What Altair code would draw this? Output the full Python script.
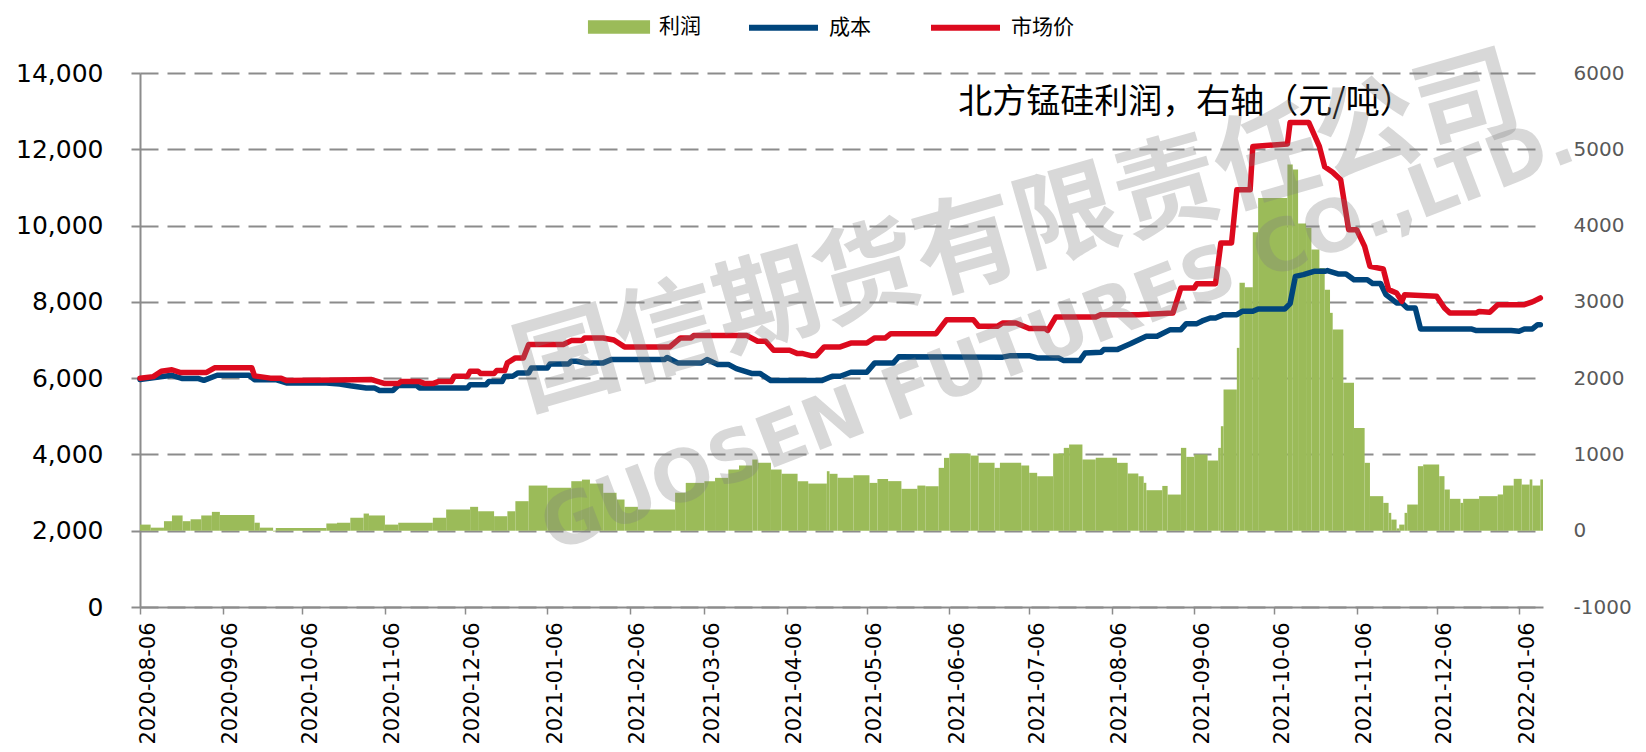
import altair as alt
import pandas as pd

# ---------------- data ----------------
profit_dates = [
    "2020-08-06", "2020-08-10", "2020-08-15", "2020-08-18", "2020-08-22", "2020-08-25", "2020-08-29",
    "2020-09-02", "2020-09-05", "2020-09-18", "2020-09-20", "2020-09-25", "2020-09-26", "2020-10-15",
    "2020-10-19", "2020-10-24", "2020-10-29", "2020-10-31", "2020-11-06", "2020-11-11", "2020-11-24",
    "2020-11-29", "2020-12-08", "2020-12-11", "2020-12-17", "2020-12-22", "2020-12-25", "2020-12-30",
    "2021-01-06", "2021-01-15", "2021-01-19", "2021-01-22", "2021-01-27", "2021-02-01", "2021-02-04",
    "2021-02-09", "2021-02-23", "2021-02-27", "2021-03-06", "2021-03-10", "2021-03-15", "2021-03-19",
    "2021-03-24", "2021-03-26", "2021-03-31", "2021-04-04", "2021-04-10", "2021-04-14", "2021-04-21",
    "2021-04-22", "2021-04-25", "2021-05-01", "2021-05-07", "2021-05-10", "2021-05-14", "2021-05-19",
    "2021-05-25", "2021-05-28", "2021-06-02", "2021-06-04", "2021-06-06", "2021-06-14", "2021-06-17",
    "2021-06-23", "2021-06-25", "2021-07-03", "2021-07-06", "2021-07-09", "2021-07-15", "2021-07-19",
    "2021-07-21", "2021-07-26", "2021-07-31", "2021-08-08", "2021-08-12", "2021-08-16", "2021-08-18",
    "2021-08-19", "2021-08-25", "2021-08-27", "2021-09-01", "2021-09-03", "2021-09-06", "2021-09-11",
    "2021-09-15", "2021-09-16", "2021-09-17", "2021-09-22", "2021-09-23", "2021-09-25", "2021-09-28",
    "2021-09-30", "2021-10-11", "2021-10-13", "2021-10-15", "2021-10-18", "2021-10-20", "2021-10-23",
    "2021-10-25", "2021-10-27", "2021-10-28", "2021-11-01", "2021-11-05", "2021-11-09", "2021-11-11",
    "2021-11-16", "2021-11-18", "2021-11-19", "2021-11-21", "2021-11-22", "2021-11-24", "2021-11-25",
    "2021-11-29", "2021-12-01", "2021-12-07", "2021-12-09", "2021-12-11", "2021-12-15", "2021-12-16",
    "2021-12-22", "2021-12-29", "2021-12-31", "2022-01-04", "2022-01-07", "2022-01-10", "2022-01-11",
    "2022-01-14",
]
profit_values = [
    80, 40, 125, 200, 125, 150, 200,
    247, 205, 105, 40, -10, 35, 95,
    105, 170, 225, 200, 80, 105, 170,
    278, 313, 255, 190, 255, 387, 592,
    562, 649, 670, 618, 497, 409, 313,
    278, 497, 627, 650, 693, 802, 855,
    933, 890, 802, 746, 650, 618, 780,
    746, 693, 727, 627, 677, 650, 549,
    592, 583, 824, 955, 1012, 985, 890,
    824, 890, 855, 759, 715, 1012, 1086,
    1130, 933, 955, 890, 750, 714, 628,
    531, 587, 474, 1086, 968, 1000, 920,
    1086, 1370, 1850, 2397, 3249, 3190, 3913,
    4363, 4800, 4734, 4026, 3970, 3685, 3445,
    3160, 2856, 2637, 1938, 1348, 890, 453,
    365, 234, 146, 30, 80, 234, 343,
    846, 868, 715, 540, 418, 365, 418,
    453, 475, 592, 680, 605, 672, 592,
    672,
]
profit_last_day = "2022-01-15"

cost_dates = [
    "2020-08-06", "2020-08-13", "2020-08-18", "2020-08-22", "2020-08-28", "2020-08-30", "2020-09-04",
    "2020-09-16", "2020-09-18", "2020-09-26", "2020-09-30", "2020-10-15", "2020-10-20", "2020-10-24",
    "2020-10-30", "2020-11-02", "2020-11-04", "2020-11-09", "2020-11-11", "2020-11-18", "2020-11-19",
    "2020-12-07", "2020-12-08", "2020-12-14", "2020-12-15", "2020-12-20", "2020-12-21", "2020-12-24",
    "2020-12-26", "2020-12-30", "2020-12-31", "2021-01-06", "2021-01-07", "2021-01-14", "2021-01-15",
    "2021-01-17", "2021-01-20", "2021-01-27", "2021-01-30", "2021-02-19", "2021-02-20", "2021-02-24",
    "2021-03-05", "2021-03-07", "2021-03-11", "2021-03-15", "2021-03-18", "2021-03-24", "2021-03-27",
    "2021-03-31", "2021-04-19", "2021-04-23", "2021-04-26", "2021-04-30", "2021-05-06", "2021-05-09",
    "2021-05-16", "2021-05-18", "2021-06-26", "2021-06-29", "2021-07-06", "2021-07-09", "2021-07-17",
    "2021-07-19", "2021-07-25", "2021-07-27", "2021-08-02", "2021-08-03", "2021-08-08", "2021-08-10",
    "2021-08-13", "2021-08-19", "2021-08-23", "2021-08-28", "2021-09-01", "2021-09-03", "2021-09-07",
    "2021-09-09", "2021-09-12", "2021-09-14", "2021-09-17", "2021-09-22", "2021-09-24", "2021-09-28",
    "2021-09-30", "2021-10-10", "2021-10-12", "2021-10-14", "2021-10-17", "2021-10-21", "2021-10-25",
    "2021-10-26", "2021-10-30", "2021-11-02", "2021-11-05", "2021-11-10", "2021-11-12", "2021-11-15",
    "2021-11-17", "2021-11-21", "2021-11-23", "2021-11-25", "2021-11-28", "2021-11-30", "2021-12-19",
    "2021-12-21", "2022-01-03", "2022-01-06", "2022-01-08", "2022-01-11", "2022-01-13", "2022-01-14",
]
cost_values = [
    5962, 6030, 6075, 5990, 5990, 5943, 6075,
    6075, 5960, 5960, 5875, 5875, 5845, 5800,
    5744, 5744, 5674, 5674, 5805, 5805, 5744,
    5744, 5830, 5830, 5910, 5910, 6049, 6049,
    6137, 6137, 6267, 6267, 6373, 6373, 6442,
    6442, 6400, 6400, 6486, 6486, 6540, 6400,
    6400, 6486, 6360, 6360, 6250, 6119, 6119,
    5936, 5936, 6049, 6049, 6154, 6154, 6400,
    6400, 6560, 6550, 6590, 6590, 6530, 6530,
    6460, 6460, 6660, 6680, 6748, 6748, 6810,
    6900, 7097, 7097, 7272, 7272, 7429, 7429,
    7500, 7578, 7578, 7665, 7665, 7752, 7752,
    7812, 7812, 7953, 8669, 8713, 8800, 8800,
    8820, 8731, 8731, 8582, 8582, 8480, 8480,
    8189, 7972, 7972, 7841, 7841, 7290, 7290,
    7246, 7246, 7230, 7290, 7290, 7403, 7403,
]

price_dates = [
    "2020-08-06", "2020-08-11", "2020-08-14", "2020-08-18", "2020-08-21", "2020-08-31", "2020-09-03",
    "2020-09-17", "2020-09-18", "2020-09-24", "2020-09-28", "2020-09-30", "2020-10-19", "2020-11-01",
    "2020-11-06", "2020-11-11", "2020-11-12", "2020-11-19", "2020-11-21", "2020-11-24", "2020-11-26",
    "2020-12-01", "2020-12-02", "2020-12-07", "2020-12-08", "2020-12-11", "2020-12-12", "2020-12-17",
    "2020-12-18", "2020-12-21", "2020-12-22", "2020-12-25", "2020-12-28", "2020-12-30", "2021-01-12",
    "2021-01-15", "2021-01-19", "2021-01-20", "2021-01-27", "2021-01-31", "2021-02-04", "2021-02-21",
    "2021-02-25", "2021-03-01", "2021-03-02", "2021-03-22", "2021-03-26", "2021-03-29", "2021-04-01",
    "2021-04-07", "2021-04-10", "2021-04-12", "2021-04-15", "2021-04-17", "2021-04-20", "2021-04-26",
    "2021-04-30", "2021-05-06", "2021-05-09", "2021-05-13", "2021-05-15", "2021-06-01", "2021-06-05",
    "2021-06-15", "2021-06-17", "2021-06-24", "2021-06-26", "2021-07-01", "2021-07-06", "2021-07-12",
    "2021-07-13", "2021-07-16", "2021-07-31", "2021-08-02", "2021-08-16", "2021-08-29", "2021-09-01",
    "2021-09-06", "2021-09-07", "2021-09-14", "2021-09-16", "2021-09-20", "2021-09-22", "2021-09-27",
    "2021-09-28", "2021-10-11", "2021-10-12", "2021-10-19", "2021-10-23", "2021-10-25", "2021-10-28",
    "2021-10-31", "2021-11-03", "2021-11-06", "2021-11-09", "2021-11-11", "2021-11-16", "2021-11-18",
    "2021-11-21", "2021-11-23", "2021-11-24", "2021-12-06", "2021-12-09", "2021-12-11", "2021-12-21",
    "2021-12-22", "2021-12-26", "2021-12-29", "2022-01-08", "2022-01-11", "2022-01-14",
]
price_values = [
    6000, 6040, 6180, 6220, 6150, 6150, 6270,
    6270, 6060, 6000, 6000, 5936, 5950, 5962,
    5857, 5857, 5910, 5910, 5857, 5857, 5910,
    5910, 6049, 6049, 6180, 6180, 6120, 6120,
    6200, 6200, 6400, 6530, 6530, 6880, 6880,
    6984, 6984, 7054, 7054, 7000, 6819, 6819,
    7054, 7054, 7115, 7115, 6967, 6967, 6730,
    6730, 6643, 6643, 6590, 6590, 6819, 6819,
    6920, 6920, 7054, 7054, 7167, 7167, 7534,
    7534, 7359, 7359, 7446, 7446, 7300, 7300,
    7250, 7604, 7604, 7665, 7665, 7710, 8365,
    8365, 8478, 8478, 9544, 9544, 10941, 10941,
    12076, 12138, 12704, 12704, 12076, 11540, 11400,
    11200, 9893, 9893, 9455, 8931, 8860, 8320,
    8230, 8014, 8189, 8150, 7841, 7710, 7710,
    7750, 7730, 7927, 7927, 8000, 8103,
]

series_names = ["利润", "成本", "市场价"]
annotation = "北方锰硅利润，右轴（元/吨）"
watermark_cn = "国信期货有限责任公司"
watermark_en = "GUOSEN FUTURES CO.,LTD."
left_ticks = [0, 2000, 4000, 6000, 8000, 10000, 12000, 14000]
right_ticks = [-1000, 0, 1000, 2000, 3000, 4000, 5000, 6000]
tick_months = [(2020, m) for m in range(8, 13)] + [(2021, m) for m in range(1, 13)] + [(2022, 1)]

# ---------------- tables ----------------
bars_df = pd.DataFrame({
    "date": profit_dates,
    "date_end": profit_dates[1:] + [profit_last_day],
    "profit": profit_values,
    "series": series_names[0],
})
lines_df = pd.concat([
    pd.DataFrame({"date": cost_dates, "value": cost_values, "series": series_names[1]}),
    pd.DataFrame({"date": price_dates, "value": price_values, "series": series_names[2]}),
], ignore_index=True)
note_df = pd.DataFrame({"t": [annotation]})
wm_cn_df = pd.DataFrame({"t": [watermark_cn]})
wm_en_df = pd.DataFrame({"t": [watermark_en]})

GREEN = "#9BBB59"
BLUE = "#00457C"
RED = "#DC0A1E"
AXIS_GREY = "#8C8C8C"
CJK = "Noto Sans CJK SC"

x_scale = alt.Scale(
    type="utc",
    domain=[alt.DateTime(year=2020, month=8, date=6, utc=True),
            alt.DateTime(year=2022, month=1, date=15, utc=True)],
)
x_axis = alt.Axis(
    values=[alt.DateTime(year=y, month=m, date=6, utc=True) for y, m in tick_months],
    format="%Y-%m-%d",
    labelAngle=270,
    labelAlign="right",
    labelBaseline="middle",
    labelFont="DejaVu Sans",
    labelFontSize=21,
    labelColor="#000000",
    labelPadding=8,
    labelOffset=8,
    labelOverlap=False,
    labelFlush=False,
    tickSize=7,
    tickColor=AXIS_GREY,
    tickWidth=1.5,
    domainColor=AXIS_GREY,
    domainWidth=2,
    grid=False,
    title=None,
)

bars = alt.Chart(bars_df).mark_bar(stroke=None).encode(
    x=alt.X("date:T", scale=x_scale, axis=x_axis),
    x2="date_end:T",
    y=alt.Y(
        "profit:Q",
        scale=alt.Scale(domain=[-1000, 6000], nice=False, zero=False),
        axis=alt.Axis(
            orient="right", values=right_ticks, grid=False, domain=False,
            labelExpr="datum.value < 0 ? '-' + abs(datum.value) : '' + datum.value",
            ticks=False, labelPadding=30, labelColor="#595959", labelFont="DejaVu Sans",
            labelFontSize=20, title=None,
        ),
    ),
    y2=alt.Y2(datum=0),
    fill=alt.Fill(
        "series:N",
        scale=alt.Scale(domain=[series_names[0]], range=[GREEN]),
        legend=alt.Legend(
            orient="none", legendX=464, legendY=-61, direction="horizontal", title=None,
            symbolType="M-2.07,-0.45H2.07V0.45H-2.07Z", symbolSize=900, symbolStrokeWidth=0,
            symbolOpacity=1, labelFont=CJK, labelFontSize=21, labelOffset=25, labelColor="#000000",
        ),
    ),
)

lines = alt.Chart(lines_df).mark_line(strokeWidth=5.5, strokeCap="round", strokeJoin="round").encode(
    x=alt.X("date:T", scale=x_scale, axis=x_axis),
    y=alt.Y(
        "value:Q",
        scale=alt.Scale(domain=[0, 14000], nice=False),
        axis=alt.Axis(
            orient="left", values=left_ticks, format=",d", grid=True, gridColor=AXIS_GREY,
            gridDash=[18, 9], gridWidth=2, domainColor=AXIS_GREY, domainWidth=2,
            tickColor=AXIS_GREY, tickSize=9, tickWidth=2, labelPadding=28,
            labelFont="DejaVu Sans", labelFontSize=25, labelColor="#000000", title=None,
        ),
    ),
    stroke=alt.Stroke(
        "series:N",
        scale=alt.Scale(domain=series_names[1:], range=[BLUE, RED]),
        legend=alt.Legend(
            orient="none", legendX=606, legendY=-83, direction="horizontal", title=None,
            symbolType="stroke", symbolSize=4761, symbolStrokeWidth=6, columnPadding=48,
            labelFont=CJK, labelFontSize=21, labelOffset=8, labelColor="#000000",
        ),
    ),
    order=alt.Order("date:T"),
)

note = alt.Chart(note_df).mark_text(
    font=CJK, fontSize=34, color="#000000", align="center", baseline="middle"
).encode(
    x=alt.value(1046),
    y=alt.value(30),
    text="t:N",
)

wm_cn = alt.Chart(wm_cn_df).mark_text(
    font=CJK, fontSize=104, fontWeight="bold", color="#7F7F7F", opacity=0.3,
    align="center", baseline="middle", angle=344,
).encode(x=alt.value(878), y=alt.value(162), text="t:N")

wm_en = alt.Chart(wm_en_df).mark_text(
    font="DejaVu Sans", fontSize=72, fontWeight="bold", color="#7F7F7F", opacity=0.3,
    align="center", baseline="middle", angle=339,
).encode(x=alt.value(918), y=alt.value(262), text="t:N")

chart = (
    alt.layer(bars, lines, note, wm_cn, wm_en)
    .resolve_scale(y="independent")
    .properties(
        width=1403,
        height=534,
        autosize=alt.AutoSizeParams(type="none"),
        padding={"left": 132, "top": 65, "right": 95, "bottom": 140},
        background="white",
    )
    .configure_view(stroke=None)
)

chart.save("out.html", embed_options={"renderer": "svg", "actions": False})
